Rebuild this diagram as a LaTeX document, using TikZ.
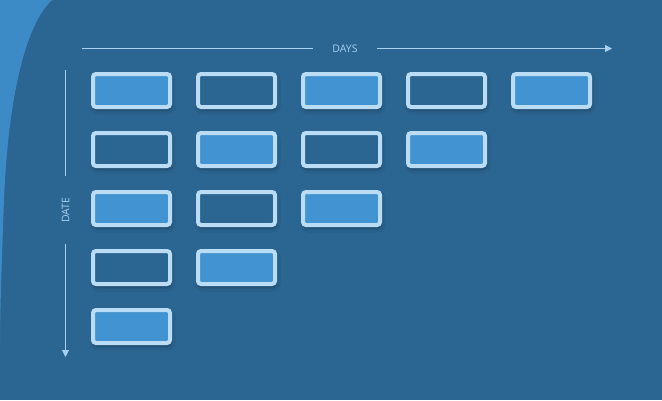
\documentclass[tikz,border=0pt]{standalone}
\usepackage{fontspec}
\setmainfont{Open Sans}
\usetikzlibrary{arrows.meta,shadows.blur}
\definecolor{bg}{HTML}{2B6591}
\definecolor{blob}{HTML}{3D8BC6}
\definecolor{cellfill}{HTML}{4293D1}
\definecolor{cellline}{HTML}{BADCF5}
\definecolor{axis}{HTML}{A9D0EF}
\tikzset{
  cell/.style={draw=cellline, line width=4pt, rounded corners=3pt, minimum width=77pt, minimum height=33pt, inner sep=0pt,
    blur shadow={shadow xshift=1pt, shadow yshift=-3pt, shadow blur radius=4pt, shadow opacity=35}},
  cellf/.style={cell, fill=cellfill},
  celle/.style={cell, fill=bg},
  axisline/.style={draw=axis, line width=0.9pt},
  axisarrow/.style={axisline, -{Triangle[length=7pt,width=7pt]}},
  axislabel/.style={text=axis, font=\fontsize{10.5}{12}\selectfont, inner sep=0pt}
}
\begin{document}
\begin{tikzpicture}[x=1pt,y=-1pt]
\useasboundingbox (0,0) rectangle (662,400);
\fill[bg] (0,0) rectangle (662,400);
\fill[blob] (0,0) -- (52,0) .. controls (25,25) and (8,100) .. (4,200) .. controls (1,280) and (0,320) .. (0,345) -- cycle;
% axes
\node[axislabel] (days) at (345,48.5) {DAYS};
\coordinate (dA) at (82,48.5);
\coordinate (dB) at (313,48.5);
\coordinate (dC) at (377,48.5);
\coordinate (dD) at (612,48.5);
\draw[axisline] (dA) -- (dB);
\draw[axisarrow] (dC) -- (dD);
\node[axislabel, rotate=90] (date) at (65.5,210) {DATE};
\coordinate (tA) at (65.5,70);
\coordinate (tB) at (65.5,176);
\coordinate (tC) at (65.5,244);
\coordinate (tD) at (65.5,357);
\draw[axisline] (tA) -- (tB);
\draw[axisarrow] (tC) -- (tD);
% cells
\foreach \r/\y in {0/90.5,1/149.5,2/208.5,3/267.5,4/326.5}{
  \foreach \c/\x in {0/131.5,1/236.5,2/341.5,3/446.5,4/551.5}{
    \pgfmathtruncatemacro{\s}{\r+\c}
    \ifnum\s<5
      \pgfmathtruncatemacro{\p}{mod(\s,2)}
      \ifnum\p=0
        \node[cellf] (c\r\c) at (\x,\y) {};
      \else
        \node[celle] (c\r\c) at (\x,\y) {};
      \fi
    \fi
  }
}
\end{tikzpicture}
\end{document}
